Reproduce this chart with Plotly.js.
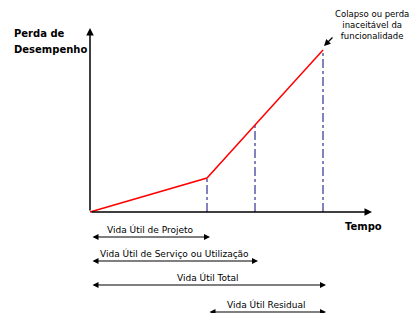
<!DOCTYPE html>
<html>
<head>
<meta charset="utf-8">
<script src="https://cdn.plot.ly/plotly-3.0.1.min.js"></script>
<style>html,body{margin:0;padding:0;background:#fff}#chart{width:414px;height:313px}</style>
</head>
<body>
<div id="chart"></div>
<script>
// Data (time vs performance loss, arbitrary units)
const tempo = [0, 117, 165, 233];
const perda = [0, 34, 87, 162];
const faseLabels = ["Vida Útil de Projeto", "Vida Útil de Serviço ou Utilização", "Vida Útil Total", "Vida Útil Residual"];
// start / end index into tempo for each phase
const faseInicio = [0, 0, 0, 1];
const faseFim = [1, 2, 3, 3];
const faseNivel = [-25, -49, -73, -100];
const colapsoTexto = "Colapso ou perda<br>inaceitável da<br>funcionalidade";
const yTituloLinhas = ["Perda de", "Desempenho"];

const font = "DejaVu Sans, Verdana, sans-serif";
const shapes = [];
const annotations = [];

// axes with arrows
annotations.push({x: 0, y: 184, ax: 0, ay: 0, axref: 'x', ayref: 'y', xref: 'x', yref: 'y', text: '', showarrow: true, arrowhead: 2, arrowsize: 1, arrowwidth: 1.5, arrowcolor: '#000'});
annotations.push({x: 282, y: 0, ax: 0, ay: 0, axref: 'x', ayref: 'y', xref: 'x', yref: 'y', text: '', showarrow: true, arrowhead: 2, arrowsize: 1, arrowwidth: 1.5, arrowcolor: '#000'});

// vertical dash-dot lines
for (let i = 1; i < tempo.length; i++) {
  shapes.push({type: 'line', xref: 'x', yref: 'y', x0: tempo[i], x1: tempo[i], y0: 0, y1: perda[i],
    line: {color: '#5a5aa8', width: 1.5, dash: 'dashdot'}, layer: 'below'});
}

// phase arrows and labels
for (let k = 0; k < faseLabels.length; k++) {
  const a = tempo[faseInicio[k]], b = tempo[faseFim[k]] + 3;
  annotations.push({x: b, y: faseNivel[k], ax: a + 1, ay: faseNivel[k], axref: 'x', ayref: 'y', xref: 'x', yref: 'y',
    text: '', showarrow: true, arrowhead: 2, arrowside: 'end+start', arrowsize: 1, arrowwidth: 1.2, arrowcolor: '#000'});
  annotations.push({x: (a + b) / 2, y: faseNivel[k], xref: 'x', yref: 'y', yanchor: 'bottom', yshift: 0,
    text: faseLabels[k], showarrow: false, font: {family: font, size: 9, color: '#000'}});
}

// axis titles
annotations.push({xref: 'paper', yref: 'paper', x: 12 / 414, y: 1 - 33 / 313, xanchor: 'left', yanchor: 'middle', align: 'left', showarrow: false,
  text: '<b>' + yTituloLinhas[0] + '</b>', font: {family: font, size: 10, color: '#000'}});
annotations.push({xref: 'paper', yref: 'paper', x: 12 / 414, y: 1 - 50 / 313, xanchor: 'left', yanchor: 'middle', align: 'left', showarrow: false,
  text: '<b>' + yTituloLinhas[1] + '</b>', font: {family: font, size: 10, color: '#000'}});
annotations.push({xref: 'paper', yref: 'paper', x: 363 / 414, y: 1 - 226 / 313, xanchor: 'center', yanchor: 'middle', showarrow: false,
  text: '<b>Tempo</b>', font: {family: font, size: 10, color: '#000'}});

// collapse callout
annotations.push({xref: 'paper', yref: 'paper', x: 372 / 414, y: 1 - 25 / 313, xanchor: 'center', yanchor: 'middle', showarrow: false,
  text: colapsoTexto, font: {family: font, size: 8.5, color: '#000'}});
annotations.push({x: tempo[3] + 1, y: perda[3] + 4, ax: tempo[3] + 11, ay: perda[3] + 14, axref: 'x', ayref: 'y', xref: 'x', yref: 'y',
  text: '', showarrow: true, arrowhead: 2, arrowsize: 1, arrowwidth: 1.3, arrowcolor: '#000'});

const trace = {x: tempo, y: perda, mode: 'lines', line: {color: '#ff0000', width: 1.5}, hoverinfo: 'skip', showlegend: false};

const layout = {
  width: 414, height: 313,
  margin: {l: 0, r: 0, t: 0, b: 0, pad: 0},
  paper_bgcolor: '#fff', plot_bgcolor: '#fff',
  xaxis: {range: [-90, 324], visible: false, fixedrange: true},
  yaxis: {range: [-101, 212], visible: false, fixedrange: true},
  shapes: shapes,
  annotations: annotations,
  showlegend: false
};
Plotly.newPlot('chart', [trace], layout, {staticPlot: true, displayModeBar: false});
</script>
</body>
</html>
